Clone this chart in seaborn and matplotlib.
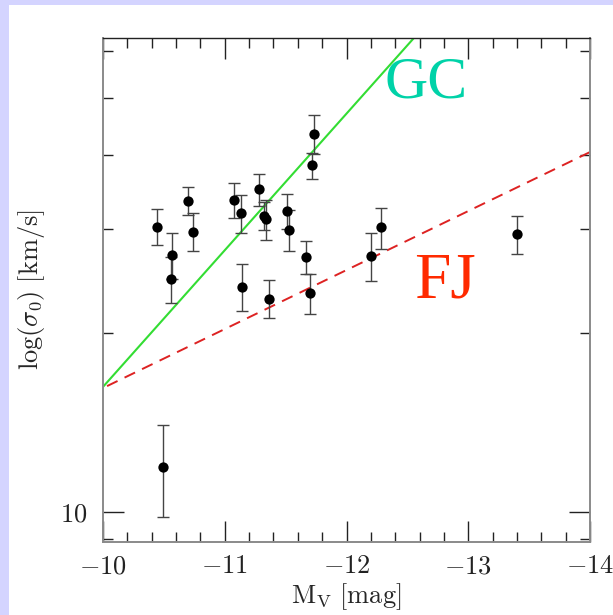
import numpy as np
import pandas as pd
import matplotlib
matplotlib.use("Agg")
import matplotlib.pyplot as plt
from matplotlib.patches import Rectangle
from matplotlib.ticker import FixedLocator, FuncFormatter, MultipleLocator, NullFormatter
import seaborn as sns

# Absolute magnitudes, central velocity dispersions and their errors
mv = [-10.44, -10.57, -10.56, -10.70, -10.74, -11.08, -11.13, -11.14,
      -11.28, -11.32, -11.34, -11.36, -11.51, -11.53, -11.67, -11.70,
      -11.73, -11.72, -12.20, -12.28, -13.40, -10.49]
sigma0 = [30.3, 27.1, 24.7, 33.5, 29.7, 33.6, 31.9, 24.0,
          35.0, 31.6, 31.2, 22.9, 32.2, 29.9, 26.9, 23.4,
          43.4, 38.4, 27.0, 30.2, 29.4, 11.9]
sigma0_err = [2.1, 2.4, 2.2, 1.8, 2.2, 2.3, 2.4, 2.2,
              2.2, 1.7, 2.4, 1.7, 2.2, 2.4, 1.7, 1.8,
              3.3, 1.9, 2.5, 2.4, 2.2, 2.1]

# Scaling relations: log(sigma) = zero point + slope * (-Mv - 10)
relation_mv = [-10.0, -14.0]
gc_zero, gc_slope = 1.211, 0.2304
fj_zero, fj_slope = 1.209, 0.0995

x_ticks = [-10, -11, -12, -13, -14]

sns.set_style("ticks")
plt.rcParams["mathtext.fontset"] = "cm"
plt.rcParams["font.family"] = ["DejaVu Serif"]

df = pd.DataFrame({"Mv": mv, "sigma": sigma0, "err": sigma0_err})
rel = pd.DataFrame({"Mv": relation_mv})
rel["GC"] = 10 ** (gc_zero + gc_slope * (-rel["Mv"] - 10))
rel["FJ"] = 10 ** (fj_zero + fj_slope * (-rel["Mv"] - 10))

fig = plt.figure(figsize=(6.13, 6.15), dpi=100)
fig.patch.set_facecolor("white")
lav = "#d4d4ff"
fig.patches.append(Rectangle((0, 1 - 5 / 615), 1, 5 / 615, transform=fig.transFigure,
                             facecolor=lav, edgecolor="none", zorder=0))
fig.patches.append(Rectangle((0, 0), 9 / 613, 1, transform=fig.transFigure,
                             facecolor=lav, edgecolor="none", zorder=0))

ax = fig.add_axes([103 / 613, 1 - 542 / 615, 487 / 613, 504 / 615])
ax.set_yscale("log")

sns.lineplot(data=rel, x="Mv", y="GC", ax=ax, color="#33dd33", lw=1.5, zorder=2)
sns.lineplot(data=rel, x="Mv", y="FJ", ax=ax, color="#dd2222", lw=1.4,
             dashes=False, zorder=2).lines[-1].set_dashes([6, 4])

ax.errorbar(df["Mv"], df["sigma"], yerr=df["err"], fmt="none",
            ecolor="#444444", elinewidth=1.0, capsize=4.5, capthick=1.0, zorder=3)
sns.scatterplot(data=df, x="Mv", y="sigma", ax=ax, color="black", s=55,
                edgecolor="black", linewidth=0, zorder=4)

ax.set_xlim(-10, -14)
ax.set_ylim(8.9, 63)

ax.xaxis.set_major_locator(FixedLocator(x_ticks))
ax.xaxis.set_minor_locator(MultipleLocator(0.2))
ax.xaxis.set_major_formatter(FuncFormatter(lambda v, p: r"$%d$" % round(v)))
ax.yaxis.set_major_locator(FixedLocator([10]))
ax.yaxis.set_minor_locator(FixedLocator([9, 20, 30, 40, 50, 60]))
ax.yaxis.set_major_formatter(FuncFormatter(lambda v, p: r"$%d$" % round(v)))
ax.yaxis.set_minor_formatter(NullFormatter())

ax.tick_params(which="both", direction="in", top=True, right=True,
               colors="#222222", labelsize=19, width=1.0)
ax.tick_params(which="major", length=15)
ax.tick_params(which="minor", length=7)
ax.tick_params(axis="x", which="major", pad=8)
ax.tick_params(axis="y", which="major", pad=11)

for side in ["left", "right", "bottom"]:
    ax.spines[side].set_color("#8a8a8a")
    ax.spines[side].set_linewidth(1.4)
ax.spines["top"].set_color("#222222")
ax.spines["top"].set_linewidth(1.0)

ax.set_xlabel(r"$\mathrm{M_V}\ [\mathrm{mag}]$", fontsize=19, labelpad=2)
ax.set_ylabel(r"$\log(\sigma_0)\ [\mathrm{km/s}]$", fontsize=19, labelpad=10)

ax.text(-12.31, 50.0, "GC", color="#00d2a8", fontsize=43,
        family="Liberation Serif", ha="left", va="baseline")
ax.text(-12.555, 23.0, "FJ", color="#ff2a00", fontsize=47,
        family="Liberation Serif", ha="left", va="baseline")

fig.savefig("out.png", dpi=100)
